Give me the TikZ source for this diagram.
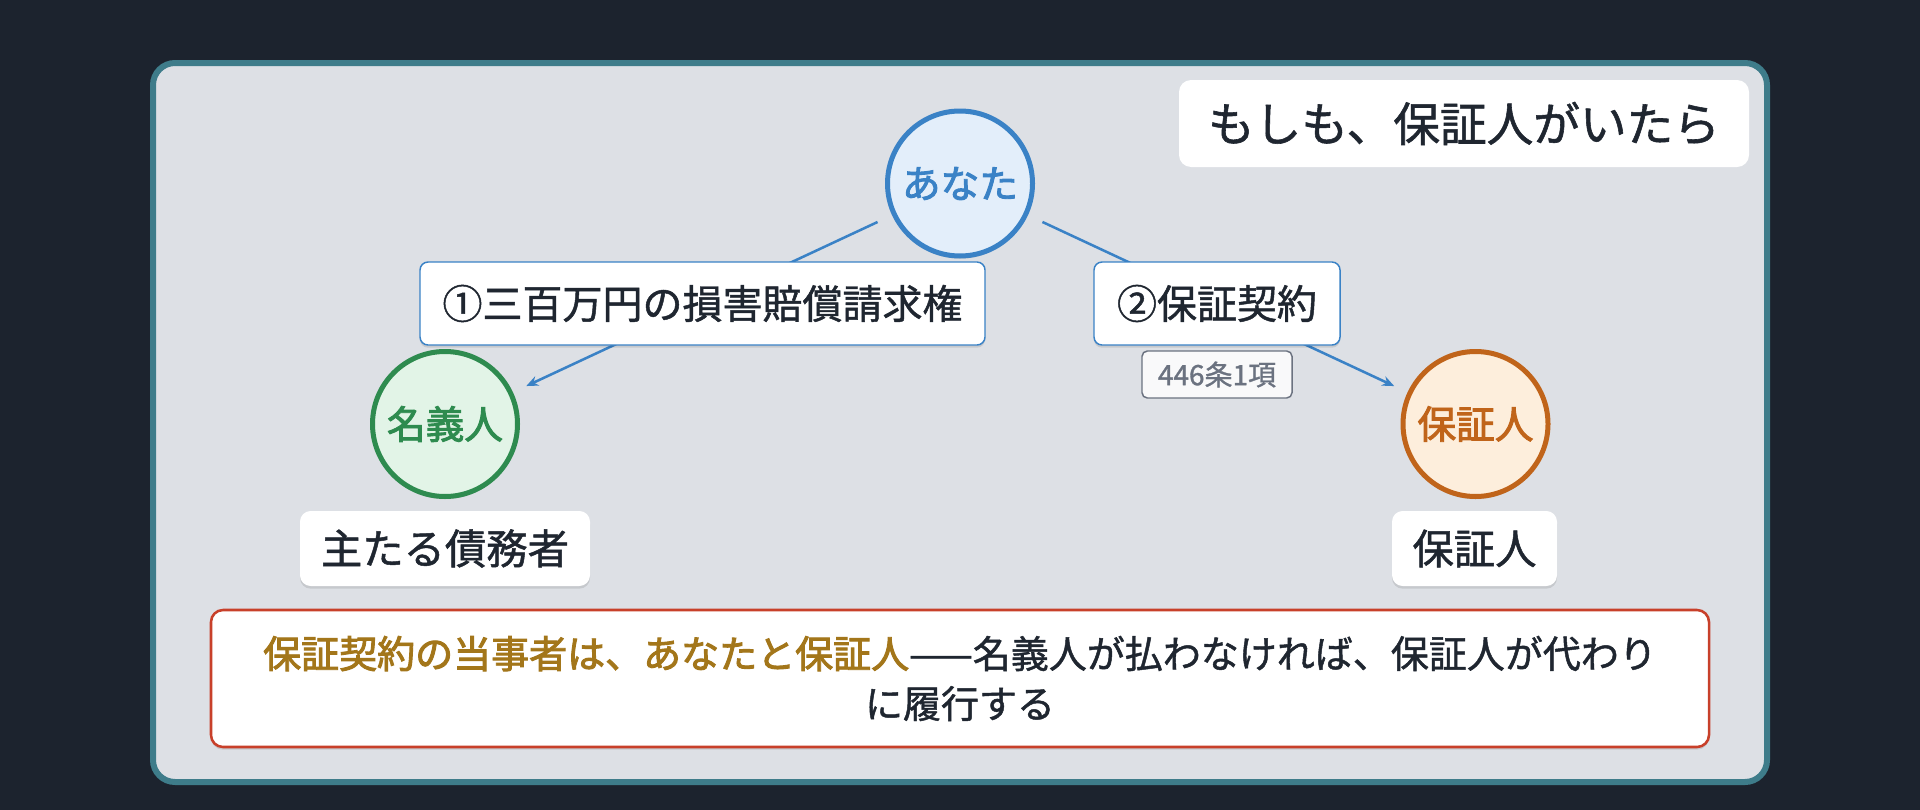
\documentclass[tikz,border=0pt]{standalone}
\usepackage{fontspec}
\setmainfont{Noto Sans CJK JP}
\newfontfamily\jpmed[FakeBold=1.2]{Noto Sans CJK JP}
\newfontfamily\jpsemi[FakeBold=2.4]{Noto Sans CJK JP}
\usetikzlibrary{shadows,arrows.meta}

\definecolor{bgdark}{HTML}{1C232E}
\definecolor{frameteal}{HTML}{3E7C8A}
\definecolor{panel}{HTML}{DDE0E5}
\definecolor{youblue}{HTML}{3A82C6}
\definecolor{youfill}{HTML}{E3EEFA}
\definecolor{meigreen}{HTML}{2E8B4F}
\definecolor{meifill}{HTML}{E2F4E7}
\definecolor{hoorange}{HTML}{C0641A}
\definecolor{hofill}{HTML}{FDEEDC}
\definecolor{inkdark}{HTML}{1F2630}
\definecolor{gold}{HTML}{A3761A}
\definecolor{calred}{HTML}{C8402A}
\definecolor{refgray}{HTML}{6B7280}

\begin{document}
\begin{tikzpicture}[x=0.75pt,y=-0.75pt,
  softshadow/.style={drop shadow={shadow xshift=0pt,shadow yshift=-2pt,opacity=0.10,fill=black}},
  party/.style={circle, line width=3.75pt, minimum size=108.75pt, inner sep=0pt,
    font=\fontsize{29}{34}\jpsemi, softshadow},
  conn/.style={youblue, line width=1.9pt, shorten <=12pt, shorten >=11pt,
    -{Stealth[length=9pt,width=7.5pt]}},
  lab/.style={draw=youblue, line width=1.1pt, fill=white, rounded corners=6pt,
    minimum height=62.25pt, inner sep=0pt, font=\fontsize{30}{36}\jpmed,
    text=inkdark, softshadow},
  tag/.style={fill=white, rounded corners=8pt, minimum height=56.25pt, inner sep=0pt,
    font=\fontsize{31}{37}\jpmed, text=inkdark, softshadow},
  reftag/.style={draw=refgray, line width=1.1pt, fill=white!96!refgray, rounded corners=4pt,
    minimum width=112.5pt, minimum height=35.25pt, inner sep=0pt,
    font=\fontsize{21}{25}\jpmed, text=refgray},
  titlebox/.style={fill=white, rounded corners=9pt, minimum width=427.5pt,
    minimum height=65.25pt, inner sep=0pt, font=\fontsize{35}{42}\jpmed, text=inkdark},
  callout/.style={draw=calred, line width=1.9pt, fill=white, rounded corners=9pt,
    minimum width=1123.5pt, minimum height=102.75pt, inner sep=0pt, align=center,
    font=\fontsize{28.5}{37.5}\jpmed, text=inkdark, softshadow}
]
\fill[bgdark] (0,0) rectangle (1920,810);
\useasboundingbox (0,0) rectangle (1920,810);

% panel
\draw[frameteal, line width=4.5pt, fill=panel, rounded corners=16.5pt] (153,63) rectangle (1767,782);

% title
\node[titlebox] (title) at (1464,123.5) {もしも、保証人がいたら};

% parties
\node[party, draw=youblue, fill=youfill, text=youblue] (you) at (960,183.5) {あなた};
\node[party, draw=meigreen, fill=meifill, text=meigreen] (mei) at (445,424) {名義人};
\node[party, draw=hoorange, fill=hofill, text=hoorange] (hosh) at (1475.5,424) {保証人};

% connectors
\draw[conn] (you) -- (mei);
\draw[conn] (you) -- (hosh);

% connector labels
\node[lab, minimum width=423.75pt] (l1) at (702.5,303.5) {①三百万円の損害賠償請求権};
\node[lab, minimum width=184.5pt] (l2) at (1217,303.5) {②保証契約};
\node[reftag] (ref) at (1217,374.5) {446条1項};

% role tags
\node[tag, minimum width=217.5pt] (t1) at (445,548.5) {主たる債務者};
\node[tag, minimum width=123.75pt] (t2) at (1474.5,548.5) {保証人};

% callout
\node[callout] (note) at (960,678.5) {{\color{gold}\jpsemi 保証契約の当事者は、あなたと保証人}——名義人が払わなければ、保証人が代わり\\に履行する};
\end{tikzpicture}
\end{document}
